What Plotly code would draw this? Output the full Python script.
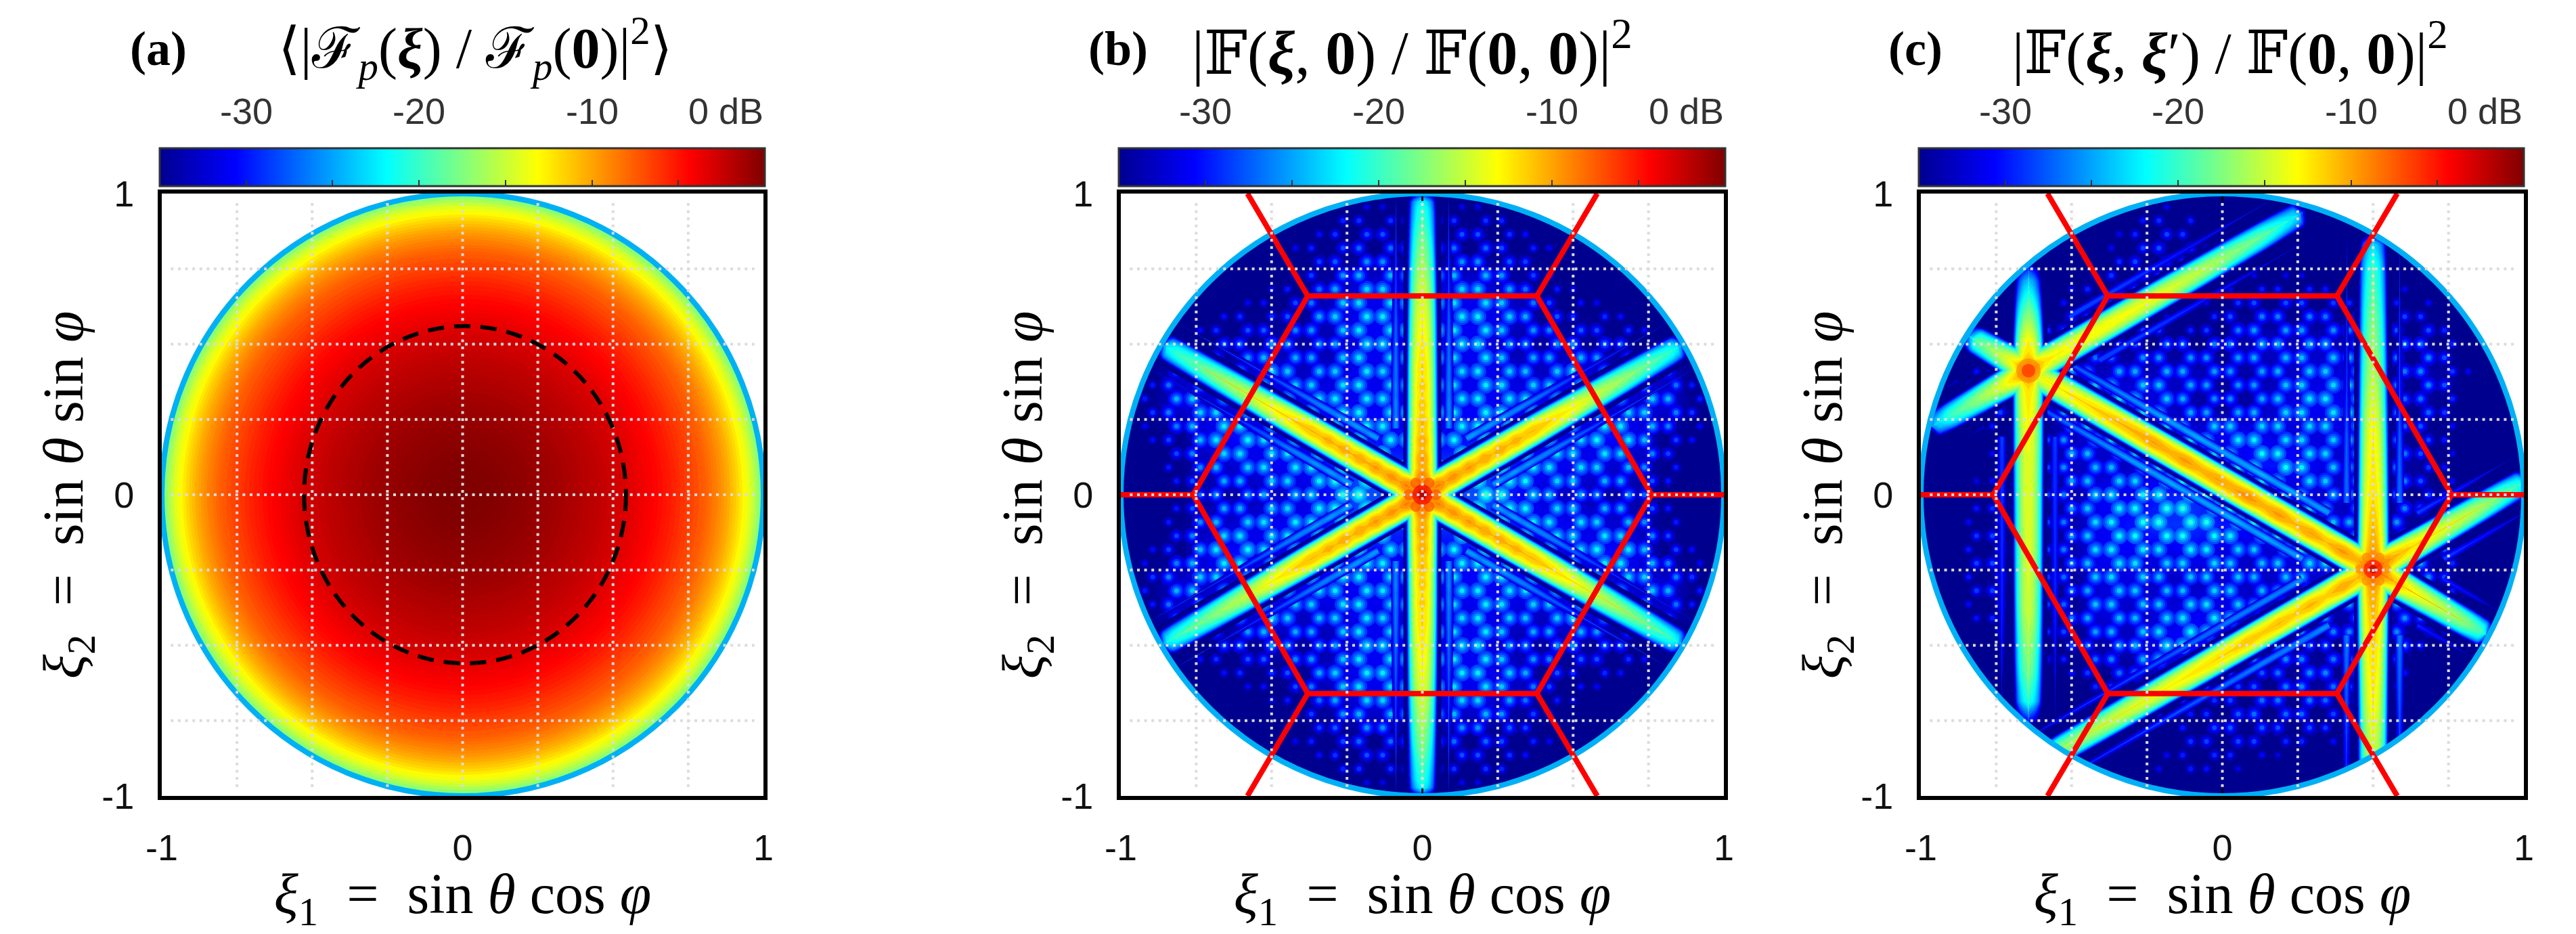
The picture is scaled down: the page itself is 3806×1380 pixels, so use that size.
import numpy as np
import plotly.graph_objects as go

# All values below are estimates (dB).
# Panel (a): radial level table
radial_r = [1.00,.99,.98,.97,.96,.95,.94,.93,.92,.91,.90,.89,.88,.87,.86,.85,.84,.83,.82,.81,.80,.785,.77,.755,.74,.725,.71,.695,.68,.665,.65,.635,.62,.605,.59,.575,.56,.545,.53,.515,.50,.48,.46,.44,.42,.40,.38,.36,.34,.32,.30,.28,.26,.24,.22,.20,.18,.16,.14,.12,.10,.08,.06]
radial_db = [-18,-17,-16,-15,-14.2,-13.6,-13,-12.4,-11.8,-11.3,-10.8,-10.3,-9.9,-9.5,-9.2,-8.8,-8.5,-8.2,-7.9,-7.6,-7.4,-7.0,-6.7,-6.4,-6.1,-5.8,-5.5,-5.2,-5,-4.7,-4.5,-4.3,-4.1,-3.9,-3.7,-3.5,-3.3,-3.1,-2.9,-2.75,-2.6,-2.4,-2.2,-2.05,-1.9,-1.75,-1.6,-1.45,-1.3,-1.15,-1.0,-.9,-.8,-.7,-.6,-.5,-.4,-.32,-.25,-.17,-.1,-.05,0]
dashed_rx = 0.535
dashed_ry = 0.56

# Colour bar and axis ticks
cbar_ticks = [-30,-25,-20,-15,-10,-5]
cbar_label_at = [-30,-20,-10]
cbar_labels = ['-30','-20','-10']
cbar_end_label = '0 dB'
axis_labels_at = [-1,0,1]
axis_labels = ['-1','0','1']
axis_minor = [-.75,-.5,-.25,.25,.5,.75]
grid_lines = [-.75,-.5,-.25,0,.25,.5,.75]

# Hexagon and its legs
hex_x = [.76,.38,-.38,-.76,-.38,.38,.76]
hex_y = [0,.66,.66,0,-.66,-.66,0]
leg_x = [[.76,1],[-.76,-1],[.38,.58],[-.38,-.58],[.38,.58],[-.38,-.58]]
leg_y = [[0,0],[0,0],[.66,1],[.66,1],[-.66,-1],[-.66,-1]]

# Side-lobe level on a 0.1 grid
grid_v = [-1,-.9,-.8,-.7,-.6,-.5,-.4,-.3,-.2,-.1,0,.1,.2,.3,.4,.5,.6,.7,.8,.9,1]
# panel (b), right upper quadrant, rows y=1..0, columns x=0..1 (the panel is mirror symmetric)
haze_b_quadrant = [
 [-35,-35,-35,-35,-35,-35,-35,-35,-35,-35,-35],
 [-30,-30,-30,-31,-35,-35,-35,-35,-35,-35,-35],
 [-28,-28,-28,-30,-31,-35,-35,-35,-35,-35,-35],
 [-25,-25,-25,-27,-31,-33,-35,-35,-35,-35,-35],
 [-24,-24,-24,-25,-28,-31,-31,-33,-35,-35,-35],
 [-24,-24,-24,-27,-27,-27,-28,-29,-33,-35,-35],
 [-25,-25,-24,-25,-26,-24,-26,-27,-26,-33,-35],
 [-24,-24,-24,-24,-24,-25,-26,-25,-25,-30,-35],
 [-24,-24,-23,-23,-24,-25,-23,-24,-28,-32,-35],
 [-22,-22,-21,-23,-24,-24,-25,-26,-30,-33,-35],
 [-21,-21,-21,-23,-25,-26,-27,-27,-32,-35,-35],
]
# panel (c), rows y=1..-1, columns x=-1..1
haze_c = [
 [-35,-35,-35,-35,-35,-35,-35,-35,-35,-35,-35,-35,-35,-35,-35,-35,-35,-35,-35,-35,-35],
 [-35,-35,-35,-35,-35,-35,-35,-32,-30,-31,-35,-35,-35,-35,-35,-35,-35,-35,-35,-35,-35],
 [-35,-35,-35,-35,-35,-35,-33,-30,-29,-30,-34,-35,-35,-35,-35,-35,-35,-35,-35,-35,-35],
 [-35,-35,-35,-35,-35,-33,-30,-29,-30,-32,-34,-32,-32,-32,-33,-35,-33,-35,-35,-35,-35],
 [-35,-35,-35,-35,-34,-30,-30,-31,-33,-35,-30,-28,-28,-28,-29,-32,-30,-31,-35,-35,-35],
 [-35,-35,-35,-32,-30,-27,-31,-29,-28,-28,-28,-26,-26,-26,-26,-29,-28,-28,-33,-35,-35],
 [-35,-35,-31,-29,-28,-27,-26,-26,-26,-26,-27,-27,-26,-25,-25,-28,-28,-27,-32,-35,-35],
 [-35,-35,-32,-28,-30,-26,-24,-24,-25,-27,-28,-27,-25,-24,-24,-27,-29,-28,-33,-35,-35],
 [-35,-35,-33,-31,-31,-26,-25,-26,-26,-25,-24,-24,-25,-25,-25,-27,-29,-30,-34,-35,-35],
 [-35,-35,-33,-32,-31,-26,-26,-26,-25,-25,-26,-23,-23,-24,-26,-28,-27,-31,-34,-35,-35],
 [-35,-35,-32,-31,-31,-27,-24,-24,-23,-22,-24,-26,-26,-25,-26,-27,-28,-30,-33,-35,-35],
 [-35,-35,-30,-30,-31,-27,-24,-23,-22,-22,-23,-23,-25,-25,-26,-27,-27,-29,-33,-35,-35],
 [-35,-35,-29,-30,-31,-27,-24,-24,-25,-24,-25,-26,-25,-24,-24,-25,-25,-27,-33,-35,-35],
 [-35,-35,-29,-30,-31,-28,-25,-25,-26,-26,-25,-26,-26,-26,-26,-26,-26,-28,-33,-35,-35],
 [-35,-35,-31,-31,-31,-28,-25,-26,-25,-24,-24,-26,-27,-27,-27,-27,-27,-30,-35,-35,-35],
 [-35,-35,-33,-33,-32,-30,-27,-26,-24,-23,-26,-27,-27,-29,-28,-28,-28,-33,-35,-35,-35],
 [-35,-35,-35,-35,-33,-32,-29,-28,-26,-30,-32,-30,-28,-27,-28,-30,-32,-35,-35,-35,-35],
 [-35,-35,-35,-35,-35,-35,-33,-32,-32,-32,-30,-28,-28,-28,-30,-33,-35,-35,-35,-35,-35],
 [-35,-35,-35,-35,-35,-35,-35,-35,-34,-30,-29,-29,-30,-30,-32,-35,-35,-35,-35,-35,-35],
 [-35,-35,-35,-35,-35,-35,-35,-35,-32,-31,-32,-33,-35,-35,-35,-35,-35,-35,-35,-35,-35],
 [-35,-35,-35,-35,-35,-35,-35,-35,-35,-35,-35,-35,-35,-35,-35,-35,-35,-35,-35,-35,-35],
]

# Beam peak level along each arm: distance from the star centre and dB
b_r = [0,.03,.06,.09,.12,.15,.18,.21,.24,.27,.30,.33,.36,.39,.42,.45,.5,.55,.6,.65,.7,.75,.8,.85,.9,.95,.975,.99,1.0]
b_side_db = [-5,-10,-8.5,-10,-9.2,-10.5,-9.5,-10.8,-9.8,-11,-10,-11,-10.2,-11.2,-10.8,-11.2,-12,-12.8,-13.6,-15,-15.8,-16.5,-17.5,-18.5,-19.5,-20.5,-22,-27,-35]
b_vert_db = [-5,-9.5,-8.5,-10,-9.5,-10.5,-10,-11,-10.5,-11.5,-11,-11.8,-11.2,-12,-11.6,-12.2,-12.5,-13,-13.5,-14.2,-15,-16,-17,-18,-19.5,-20.5,-22,-27,-35]
b_center = [[0,0]]*6
b_angle = [90,270,30,210,150,330]
b_prof_r = [b_r]*6
b_prof_db = [b_vert_db,b_vert_db,b_side_db,b_side_db,b_side_db,b_side_db]

star_a = [.5,-.247]
star_b = [-.643,.412]
c_center = [star_a,star_a,star_a,star_a,star_a,star_a,star_b,star_b,star_b,star_b,star_b]
c_angle = [90,270,30,210,330,150,90,270,30,210,150]
c_prof_r = [
 [0,.08,.25,.45,.63,.85,1.0,1.08,1.12],
 [0,.08,.3,.45,.6,.75,.85,.93,.97,1.0],
 [0,.08,.2,.4,.5,.57,.60],
 [0,.06,.12,.18,.24,.30,.36,.42,.48,.54,.6,.75,1.0,1.2,1.3,1.35],
 [0,.08,.15,.25,.35,.42,.45],
 [0,.06,.12,.18,.24,.30,.36,.42,.48,.54,.60,.66,.72,.78,.84,.90,1.0,1.1,1.2,1.32],
 [0,.06,.1,.2,.3,.33,.36],
 [0,.06,.1,.3,.5,.8,1.0,1.1,1.16,1.18],
 [0,.06,.1,.3,.5,.7,.9,1.03,1.06],
 [0,.06,.1,.2,.3,.36,.38],
 [0,.06,.1,.2,.24,.26],
]
c_prof_db = [
 [-7,-10,-12,-13,-15.5,-18,-20,-23,-35],
 [-7,-10,-12,-13,-15,-16,-17.5,-20,-23,-35],
 [-7,-10.5,-13,-16,-18.5,-21,-35],
 [-7,-11,-10,-11.5,-10.5,-11.5,-10.8,-11.5,-11,-11.8,-11.8,-13,-15,-17,-22,-35],
 [-7,-11,-13,-15,-17,-20,-35],
 [-7,-10.5,-9.5,-11,-9.8,-10.8,-9.5,-10.5,-9.2,-10.2,-9.8,-10.5,-9.5,-10.5,-9.8,-10.5,-11,-12,-13,-14],
 [-8,-12,-13,-18,-24,-28,-35],
 [-8,-12,-12.5,-14,-14,-15,-18,-21,-30,-35],
 [-8,-12,-13,-13,-14,-16,-19,-23,-35],
 [-8,-12,-14,-17,-20,-24,-35],
 [-8,-13,-15,-19,-30,-35],
]

# Beam cross-section: dB below the beam peak and half-width in sine units
beam_drop = [0,1,2,3,4,6,8,10,14,18,24,35]
beam_half = [0,.014,.02,.025,.029,.035,.039,.042,.047,.05,.055,.06]
# Faint parallel side stripes: offset from the beam axis and dB below the beam peak
stripe_offset = [.088,-.088]
stripe_drop = [15,15]

# Bright spots at the star centres
spot_b_x = [.045,.022,-.022,-.045,-.022,.022,0,0]
spot_b_y = [0,.039,.039,0,-.039,-.039,0,0]
spot_b_db = [-7,-7,-7,-7,-7,-7,-4,-1]
spot_c_x = [.545,.522,.478,.455,.478,.522,.5,.5,-.643,-.643]
spot_c_y = [-.247,-.208,-.208,-.247,-.286,-.286,-.247,-.247,.412,.412]
spot_c_db = [-9,-9,-9,-9,-9,-9,-5,-2,-9,-6]

# ---- styles ----
JET = [[0,'#00008f'],[.125,'#0000ff'],[.375,'#00ffff'],[.625,'#ffff00'],[.875,'#ff0000'],[1,'#800000']]
_t = [0,.125,.375,.625,.875,1]
_r = [0,0,0,255,255,128]; _g = [0,0,255,255,0,0]; _b = [143,255,255,0,0,0]
def jet(db):
    t = (db + 35) / 35
    return 'rgb(%d,%d,%d)' % (np.interp(t,_t,_r), np.interp(t,_t,_g), np.interp(t,_t,_b))

W, H = 3806, 1380
FRAMES = [(239,1128),(1656,2547),(2838,3729)]
TOP, BOT = 286, 1176
BARS = [(236,1130),(1653,2549),(2835,3729)]
SERIF = 'Liberation Serif, DejaVu Serif, serif'
SANS = 'Liberation Sans, Arimo, sans-serif'
RING = '#00b0f5'; GRIDC = '#dcdcdc'

fig = go.Figure()
axkw = dict(range=[-1,1], tickmode='array', tickvals=axis_labels_at, ticktext=axis_labels, ticks='inside',
            ticklen=11, tickwidth=3, tickcolor='black', showline=True, linewidth=6, linecolor='black',
            minor=dict(tickmode='array', tickvals=axis_minor, ticks='inside', ticklen=11, tickwidth=3, tickcolor='black'),
            mirror='allticks', showgrid=False, zeroline=False, ticklabelstandoff=24,
            tickfont=dict(family=SANS, size=54, color='#111'), fixedrange=True)
NB = '\u00a0'
XT = f'<i>ξ</i><sub>1</sub>{NB}{NB}={NB}{NB}sin{NB}<i>θ</i>{NB}cos{NB}<i>φ</i>'
YT = f'<i>ξ</i><sub>2</sub>{NB}{NB}={NB}{NB}sin{NB}<i>θ</i>{NB}sin{NB}<i>φ</i>'
tf = dict(family=SERIF, size=84, color='black')
for k,(l,r) in enumerate(FRAMES):
    s = '' if k == 0 else str(k+1)
    fig.update_layout({
        'xaxis'+s: dict(axkw, domain=[l/W, r/W], anchor='y'+s, title=dict(text=XT, font=tf, standoff=30)),
        'yaxis'+s: dict(axkw, domain=[1-BOT/H, 1-TOP/H], anchor='x'+s),
    })
    ca = 'coloraxis' + ('' if k == 0 else str(k+1))
    fig.update_layout({ca: dict(cmin=-35, cmax=0, colorscale=JET, colorbar=dict(
        orientation='h', x=BARS[k][0]/W, xanchor='left', xref='paper', y=1-288/H, yanchor='bottom', yref='paper',
        lenmode='pixels', len=BARS[k][1]-BARS[k][0], thicknessmode='pixels', thickness=56, xpad=0, ypad=0,
        tickmode='array', tickvals=cbar_ticks, ticks='inside', ticklen=10, tickwidth=2, tickcolor='#333',
        showticklabels=False, outlinecolor='#333', outlinewidth=3))})

# (a): colour-axis carrier trace plus concentric level circles
shapes = []
fig.add_trace(go.Scatter(x=radial_r, y=[0]*len(radial_r), mode='markers', hoverinfo='skip', showlegend=False,
    marker=dict(size=1, color=radial_db, coloraxis='coloraxis')))
for rr, db in zip(radial_r, radial_db):
    shapes.append(dict(type='circle', xref='x', yref='y', x0=-rr, x1=rr, y0=-rr, y1=rr,
                       fillcolor=jet(db), line=dict(width=0), layer='above'))

def lookup(H2, x, y):
    fx = (x + 1) / .1; fy = (1 - y) / .1
    i = min(int(fx), 19); j = min(int(fy), 19)
    u = fx - i; v = fy - j
    return (H2[j,i]*(1-u)*(1-v) + H2[j,i+1]*u*(1-v) + H2[j+1,i]*(1-u)*v + H2[j+1,i+1]*u*v)

def arm_xy(c, ang, rr, db, level, half=None, offset=0, drop=0, scale=1, start=None):
    a = np.radians(ang); d = np.array([np.cos(a), np.sin(a)]); n = np.array([-d[1], d[0]])
    s0 = rr[0] if start is None else start
    if s0 >= rr[-1]:
        return [], []
    s = np.linspace(s0, rr[-1], int((rr[-1]-s0)*110)+2)
    if half is None:
        h = scale*np.interp(np.interp(s, rr, db) - drop - level, beam_drop, beam_half, left=0)
    else:
        h = np.full_like(s, half)
    if h.max() <= 0:
        return [], []
    cx = c[0]+offset*n[0]; cy = c[1]+offset*n[1]
    lx = cx+s*d[0]+h*n[0]; ly = cy+s*d[1]+h*n[1]
    rx = cx+s*d[0]-h*n[0]; ry = cy+s*d[1]-h*n[1]
    return list(lx)+list(rx[::-1])+[lx[0],None], list(ly)+list(ry[::-1])+[ly[0],None]

q = np.array(haze_b_quadrant, float)
top = np.hstack([q[:,:0:-1], q])
haze_b = np.vstack([top, top[-2::-1]])
panels = [
    ('2', haze_b, b_center, b_angle, b_prof_r, b_prof_db, spot_b_x, spot_b_y, spot_b_db),
    ('3', np.array(haze_c, float), c_center, c_angle, c_prof_r, c_prof_db, spot_c_x, spot_c_y, spot_c_db),
]
LSX, LSY = .0526, .0455
def polys(xa, ya, color, xs, ys):
    fig.add_trace(go.Scatter(x=xs, y=ys, mode='lines', fill='toself', fillcolor=color, line=dict(width=0),
                             xaxis=xa, yaxis=ya, hoverinfo='skip', showlegend=False))
for s, hz, cen, ang, pr, pd, sx, sy, sdb in panels:
    xa, ya, ca = 'x'+s, 'y'+s, 'coloraxis'+s
    fig.add_trace(go.Heatmap(x=grid_v, y=grid_v[::-1], z=np.maximum(hz-7, -35), zsmooth='best', coloraxis=ca,
                             xaxis=xa, yaxis=ya, hoverinfo='skip'))
    dx, dy, dv = [], [], []
    for j in range(-22, 23):
        for i in range(-42, 43):
            if (i - j) % 3 == 0:
                continue
            x = LSX*(i+.5*j); y = LSY*j
            if x*x+y*y >= .985:
                continue
            v = lookup(hz, x, y)
            if v > -33:
                dx.append(x); dy.append(y); dv.append(v)
    dv = np.array(dv)
    for size, off in ((25,-4.5),(19,-3),(13,-1.2),(7,1.5)):
        fig.add_trace(go.Scatter(x=dx, y=dy, mode='markers', xaxis=xa, yaxis=ya, hoverinfo='skip', showlegend=False,
            marker=dict(size=size, color=dv+off, coloraxis=ca, line=dict(width=0))))
    # faint parallel side stripes
    for lev in range(-34, -22):
        nx, ny = [], []
        for c,a,rr,db in zip(cen, ang, pr, pd):
            for off, dr in zip(stripe_offset, stripe_drop):
                px,py = arm_xy(c,a,rr,db,lev,offset=off,drop=dr,scale=.4,start=.22); nx+=px; ny+=py
        if nx:
            polys(xa, ya, jet(lev+.5), nx, ny)
    # dark gaps next to the beams
    nx, ny = [], []
    for c,a,rr,db in zip(cen, ang, pr, pd):
        px,py = arm_xy(c,a,rr,db,-35,half=.063); nx+=px; ny+=py
    polys(xa, ya, jet(-35), nx, ny)
    for lev in range(-34, -3):
        nx, ny = [], []
        for c,a,rr,db in zip(cen, ang, pr, pd):
            px,py = arm_xy(c,a,rr,db,lev); nx+=px; ny+=py
        if nx:
            polys(xa, ya, jet(lev+.5), nx, ny)
    sizes = [16]*6+[30,13] if s=='2' else [14]*6+[28,12,36,20]
    fig.add_trace(go.Scatter(x=sx, y=sy, mode='markers', xaxis=xa, yaxis=ya, hoverinfo='skip', showlegend=False,
        marker=dict(size=sizes, color=sdb, coloraxis=ca, line=dict(width=0))))

# overlays: mask, ring, hexagon, grid
th = np.linspace(0, 2*np.pi, 241)
circle = 'M' + ' L'.join('%.4f %.4f' % (np.cos(t), np.sin(t)) for t in th[:-1]) + ' Z'
for k in range(3):
    s = '' if k == 0 else str(k+1)
    xr, yr = 'x'+s, 'y'+s
    shapes.append(dict(type='path', xref=xr, yref=yr, layer='above', fillcolor='white', line=dict(width=0),
                       path='M-1.02 -1.02 L1.02 -1.02 L1.02 1.02 L-1.02 1.02 Z ' + circle, fillrule='evenodd'))
    shapes.append(dict(type='circle', xref=xr, yref=yr, layer='above', x0=-1, x1=1, y0=-1, y1=1,
                       line=dict(color=RING, width=8)))
    if k:
        path = 'M' + ' L'.join('%g %g' % p for p in zip(hex_x, hex_y))
        shapes.append(dict(type='path', xref=xr, yref=yr, layer='above', path=path, line=dict(color='#ff0000', width=8)))
        for lx, ly in zip(leg_x, leg_y):
            shapes.append(dict(type='line', xref=xr, yref=yr, layer='above', x0=lx[0], x1=lx[1], y0=ly[0], y1=ly[1],
                               line=dict(color='#ff0000', width=8)))
    for g in grid_lines:
        shapes.append(dict(type='line', xref=xr, yref=yr, layer='above', x0=g, x1=g, y0=-.97, y1=.97,
                           line=dict(color=GRIDC, width=4, dash='4px,6.6px')))
        shapes.append(dict(type='line', xref=xr, yref=yr, layer='above', x0=-.97, x1=.97, y0=g, y1=g,
                           line=dict(color=GRIDC, width=4, dash='4px,6.6px')))
    if k == 0:
        shapes.append(dict(type='circle', xref='x', yref='y', layer='above', x0=-dashed_rx+.008, x1=dashed_rx+.008,
                           y0=-dashed_ry, y1=dashed_ry, line=dict(color='black', width=6, dash='24px,15px')))

def label(x, txt, size, anchor='center'):
    return dict(xref='paper', yref='paper', x=x/W, y=1-72/H, text=txt, xanchor=anchor, yanchor='middle', showarrow=False,
                font=dict(family=SERIF, size=size, color='black'))
annos = [
    label(190,'<b>(a)</b>',72,'left'), label(1606,'<b>(b)</b>',72,'left'), label(2788,'<b>(c)</b>',72,'left'),
    label(702,'⟨|ℱ<sub><i>p</i></sub>(<b><i>ξ</i></b>) / ℱ<sub><i>p</i></sub>(<b>0</b>)|<sup>2</sup>⟩',84),
    label(2086,'|𝔽(<b><i>ξ</i></b>, <b>0</b>) / 𝔽(<b>0</b>, <b>0</b>)|<sup>2</sup>',90),
    label(3295,'|𝔽(<b><i>ξ</i></b>, <b><i>ξ</i></b>′) / 𝔽(<b>0</b>, <b>0</b>)|<sup>2</sup>',87),
]
for (fl, fr) in FRAMES:
    annos.append(dict(xref='paper', yref='paper', x=(fl-139)/W, y=1-(TOP+BOT)/2/H, text=YT, textangle=-90, xanchor='center',
                      yanchor='middle', showarrow=False, font=dict(family=SERIF, size=84, color='black')))
for l, r in BARS:
    for v, t in zip(cbar_label_at, cbar_labels):
        annos.append(dict(xref='paper', yref='paper', x=(l+(r-l)*(v+35)/35)/W, y=1-164/H, text=t, xanchor='center',
                          yanchor='middle', showarrow=False, font=dict(family=SANS, size=54, color='#333')))
    annos.append(dict(xref='paper', yref='paper', x=r/W, y=1-164/H, text=cbar_end_label, xanchor='right',
                      yanchor='middle', showarrow=False, font=dict(family=SANS, size=54, color='#333')))
fig.update_layout(width=W, height=H, autosize=False, margin=dict(l=0,r=0,t=0,b=0,autoexpand=False), paper_bgcolor='white', plot_bgcolor='white',
                  showlegend=False, shapes=shapes, annotations=annos)
fig.write_html('out.html', config=dict(displayModeBar=False), post_script="document.body.style.margin='0';")
